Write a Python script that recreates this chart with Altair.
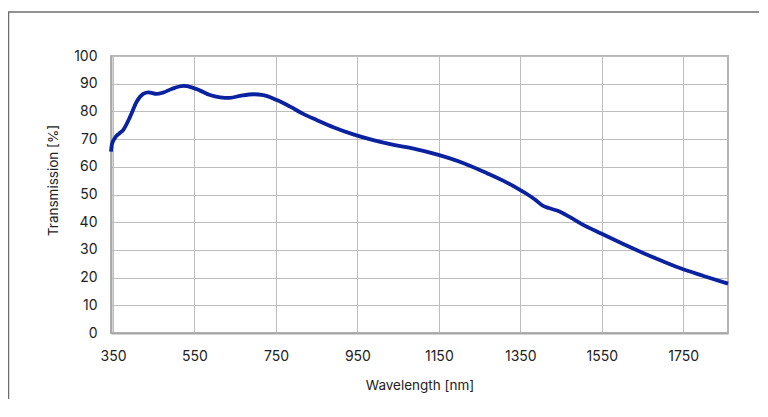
import altair as alt
import pandas as pd

wavelength = [345, 347, 355, 365, 375, 392, 408, 424, 437, 457, 473, 494, 523, 543,
              564, 588, 613, 637, 662, 695, 719, 752, 785, 817, 850, 891, 940, 989,
              1039, 1088, 1149, 1211, 1268, 1317, 1350, 1368, 1385, 1405, 1420, 1440,
              1470, 1500, 1550, 1600, 1650, 1700, 1750, 1800, 1860]
transmission = [65.5, 68.0, 70.5, 72.0, 73.3, 78.1, 83.5, 86.3, 86.9, 86.3, 86.8, 88.1,
                89.2, 88.7, 87.5, 85.9, 85.1, 84.9, 85.6, 86.2, 85.9, 84.1, 81.7, 79.1,
                76.9, 74.3, 71.7, 69.6, 67.9, 66.6, 64.3, 61.3, 57.7, 54.3, 51.6, 50.0,
                48.3, 46.0, 45.1, 44.2, 42.0, 39.4, 35.8, 32.3, 29.0, 25.9, 23.0, 20.6,
                17.8]

x_ticks = [350, 550, 750, 950, 1150, 1350, 1550, 1750]
y_ticks = [0, 10, 20, 30, 40, 50, 60, 70, 80, 90, 100]

df = pd.DataFrame({"wavelength": wavelength, "transmission": transmission})

FONT = "Inter"

line = alt.Chart(df).mark_line(
    color="#0a22a0", strokeWidth=3.8, interpolate="monotone"
).encode(
    x=alt.X("wavelength:Q",
            scale=alt.Scale(domain=[345, 1860], nice=False, zero=False),
            axis=alt.Axis(values=x_ticks, format="d", title="Wavelength [nm]",
                          titleY=52, titleBaseline="middle", labelPadding=16)),
    y=alt.Y("transmission:Q",
            scale=alt.Scale(domain=[0, 100], nice=False),
            axis=alt.Axis(values=y_ticks, title="Transmission [%]", labelPadding=14,
                          titleX=-58, titleY=124, titleBaseline="middle")),
)

# outer frame of the figure: top edge and left edge (the others lie off the page)
frame = pd.DataFrame({
    "x": [-103.0, -102.5], "x2": [648.0, -102.5],
    "y": [-44.0, -44.0], "y2": [-44.0, 343.0],
})
frame_rules = alt.Chart(frame).mark_rule(color="#6e6e6e", strokeWidth=1.5).encode(
    x=alt.X("x:Q", scale=None), x2="x2:Q",
    y=alt.Y("y:Q", scale=None), y2="y2:Q",
)

chart = alt.layer(frame_rules, line).resolve_scale(x="independent", y="independent").properties(
    width=617, height=277,
    autosize=alt.AutoSizeParams(type="none"),
    padding={"left": 103, "top": 48, "right": 32, "bottom": 66},
).configure_view(
    stroke="#b4b4b4", strokeWidth=2
).configure_axis(
    grid=True, gridColor="#bdbdbd", gridWidth=1,
    domainColor="#a8a8a8", domainWidth=2,
    ticks=False,
    labelFont=FONT, labelFontSize=14, labelColor="#222222",
    titleFont=FONT, titleFontSize=13.5, titleColor="#222222", titleFontWeight="normal",
)

chart.save("out.html", embed_options={"renderer": "svg", "actions": False})
